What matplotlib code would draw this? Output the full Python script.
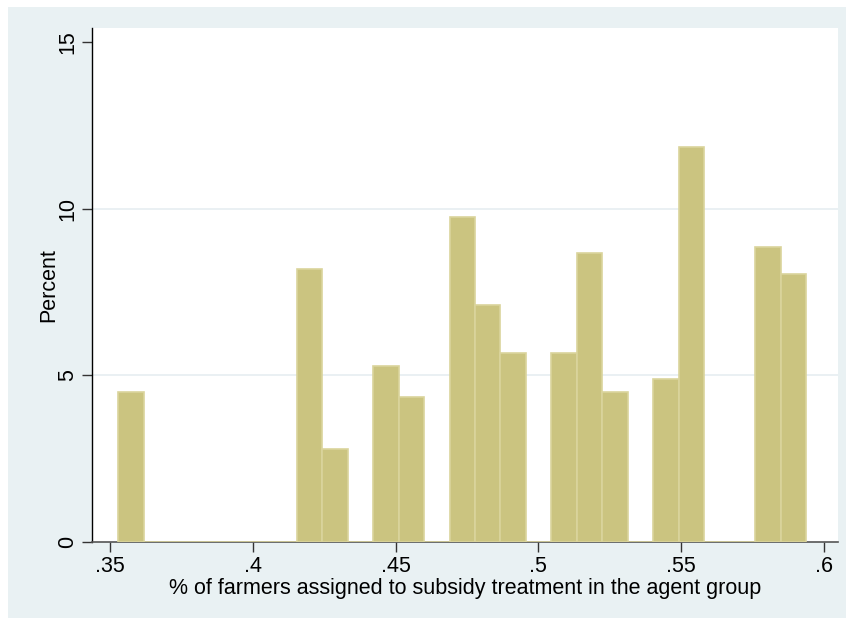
import matplotlib
matplotlib.use('Agg')
import matplotlib.pyplot as plt
from matplotlib.patches import Rectangle
import numpy as np

plt.rcParams['font.family'] = ['Liberation Sans', 'DejaVu Sans']

# Гистограмма: 27 интервалов между минимумом и максимумом доли
x_min = 0.3529
x_max = 0.5938
n_bins = 27

# Проценты по интервалам (пустые интервалы = 0)
percent = [4.48, 0, 0, 0, 0, 0, 0, 8.18, 2.77, 0, 5.27, 4.33, 0,
           9.74, 7.10, 5.66, 0, 5.66, 8.68, 4.48, 0, 4.88, 11.84,
           0, 0, 8.84, 8.03]

x_ticks = [0.35, 0.4, 0.45, 0.5, 0.55, 0.6]
x_tick_labels = ['.35', '.4', '.45', '.5', '.55', '.6']
y_ticks = [0, 5, 10, 15]

edges = np.linspace(x_min, x_max, n_bins + 1)
width = edges[1] - edges[0]

fs = 15.5

fig = plt.figure(figsize=(8.46, 6.18), dpi=100)
fig.patch.set_facecolor('white')
# Фон области графика (как в Stata s2color)
fig.patches.append(Rectangle((8 / 846, 0), 1, 1 - 7 / 618, transform=fig.transFigure,
                             facecolor='#E9F1F3', edgecolor='none', zorder=-10))

ax = fig.add_axes([0.1093, 0.1235, 0.8809, 0.8312])
ax.set_zorder(1)
ax.set_facecolor('white')

ax.bar(edges[:-1], percent, width=width, align='edge',
       color='#CBC480', edgecolor='#DAD49C', linewidth=1.2, zorder=3)

ax.set_xlim(0.34387, 0.6048)
ax.set_ylim(0, 15.42)

for g in [5, 10]:
    ax.axhline(g, color='#E6EEF1', linewidth=1.2, zorder=1)

ax.set_xticks(x_ticks)
ax.set_xticklabels(x_tick_labels, fontsize=fs)
ax.set_yticks(y_ticks)
ax.set_yticklabels([str(v) for v in y_ticks], fontsize=fs, rotation=90, va='center')

ax.tick_params(axis='x', length=7, width=1, color='#333333', pad=3)
ax.tick_params(axis='y', length=7, width=1, color='#333333', pad=3)

for s in ['top', 'right']:
    ax.spines[s].set_visible(False)
ax.spines['left'].set_color('black')
ax.spines['bottom'].set_color('#555555')
ax.spines['left'].set_linewidth(1)
ax.spines['bottom'].set_linewidth(1.2)

ax.set_xlabel('% of farmers assigned to subsidy treatment in the agent group',
              fontsize=fs, labelpad=1)
ax.set_ylabel('Percent', fontsize=fs, labelpad=-1)

fig.savefig('out.png', dpi=100)
